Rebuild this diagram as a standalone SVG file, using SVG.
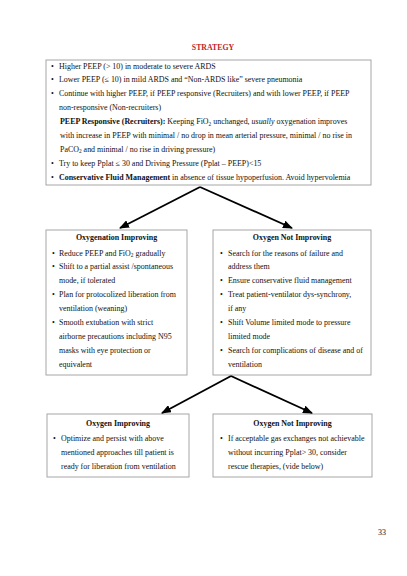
<svg xmlns="http://www.w3.org/2000/svg" width="407" height="576" viewBox="0 0 407 576">
<defs>
<marker id="ah" markerWidth="10" markerHeight="8" refX="9" refY="4" orient="auto" markerUnits="userSpaceOnUse">
<path d="M0,0 L10,4 L0,8 Z" fill="#000"/>
</marker>
<style>
text{font-family:"Liberation Serif","Times New Roman",serif;font-size:7.95px;fill:#111}
.b{font-weight:bold}
.title{font-weight:bold;font-size:7.8px;fill:#c0262c}
.c{text-anchor:middle}
.box{fill:#fff;stroke:#a6a6a6;stroke-width:1}
.arr{stroke:#000;stroke-width:1.9;fill:none;marker-end:url(#ah)}
.sub{font-size:5.3px}
</style>
</defs>
<rect width="407" height="576" fill="#fff"/>
<text class="title c" x="213" y="50">STRATEGY</text>

<g id="strategy">
<rect class="box" x="46" y="60" width="325" height="125"/>
<text x="51" y="68.5">•</text><text x="59" y="68.5">Higher PEEP (&gt; 10) in moderate to severe ARDS</text>
<text x="51" y="82.4">•</text><text x="59" y="82.4">Lower PEEP (≤ 10) in mild ARDS and “Non-ARDS like” severe pneumonia</text>
<text x="51" y="96.3">•</text><text x="59" y="96.3">Continue with higher PEEP, if PEEP responsive (Recruiters) and with lower PEEP, if PEEP</text>
<text x="59" y="110.2">non-responsive (Non-recruiters)</text>
<text x="60" y="124.1"><tspan class="b">PEEP Responsive (Recruiters):</tspan> Keeping FiO<tspan class="sub" dy="1.5">2</tspan><tspan dy="-1.5"> unchanged, </tspan><tspan font-style="italic">usually</tspan> oxygenation improves</text>
<text x="60" y="138">with increase in PEEP with minimal / no drop in mean arterial pressure, minimal / no rise in</text>
<text x="60" y="151.9">PaCO<tspan class="sub" dy="1.5">2</tspan><tspan dy="-1.5"> and minimal / no rise in driving pressure)</tspan></text>
<text x="51" y="165.8">•</text><text x="59" y="165.8">Try to keep Pplat ≤ 30 and Driving Pressure (Pplat – PEEP)&lt;15</text>
<text x="51" y="179.7">•</text><text x="59" y="179.7"><tspan class="b">Conservative Fluid Management</tspan> in absence of tissue hypoperfusion. Avoid hypervolemia</text>
</g>

<g id="oxygenation-improving">
<rect class="box" x="46" y="230" width="141" height="145"/>
<text class="b c" x="116.5" y="240">Oxygenation Improving</text>
<text x="52" y="255.5">•</text><text x="59" y="255.5">Reduce PEEP and FiO<tspan class="sub" dy="1.5">2</tspan><tspan dy="-1.5"> gradually</tspan></text>
<text x="52" y="269.4">•</text><text x="59" y="269.4">Shift to a partial assist /spontaneous</text>
<text x="59" y="283.3">mode, if tolerated</text>
<text x="52" y="297.2">•</text><text x="59" y="297.2">Plan for protocolized liberation from</text>
<text x="59" y="311.1">ventilation (weaning)</text>
<text x="52" y="325">•</text><text x="59" y="325">Smooth extubation with strict</text>
<text x="59" y="338.9">airborne precautions including N95</text>
<text x="59" y="352.8">masks with eye protection or</text>
<text x="59" y="366.7">equivalent</text>
</g>

<g id="oxygen-not-improving-1">
<rect class="box" x="213" y="230" width="158" height="145"/>
<text class="b c" x="292" y="240">Oxygen Not Improving</text>
<text x="220" y="255.5">•</text><text x="228" y="255.5">Search for the reasons of failure and</text>
<text x="228" y="269.4">address them</text>
<text x="220" y="283.3">•</text><text x="228" y="283.3">Ensure conservative fluid management</text>
<text x="220" y="297.2">•</text><text x="228" y="297.2">Treat patient-ventilator dys-synchrony,</text>
<text x="228" y="311.1">if any</text>
<text x="220" y="325">•</text><text x="228" y="325">Shift Volume limited mode to pressure</text>
<text x="228" y="338.9">limited mode</text>
<text x="220" y="352.8">•</text><text x="228" y="352.8">Search for complications of disease and of</text>
<text x="228" y="366.7">ventilation</text>
</g>

<g id="oxygen-improving">
<rect class="box" x="47" y="414" width="142" height="63"/>
<text class="b c" x="118" y="425.5">Oxygen Improving</text>
<text x="53" y="441">•</text><text x="61" y="441">Optimize and persist with above</text>
<text x="61" y="455">mentioned approaches till patient is</text>
<text x="61" y="469">ready for liberation from ventilation</text>
</g>

<g id="oxygen-not-improving-2">
<rect class="box" x="213" y="414" width="159" height="63"/>
<text class="b c" x="292.5" y="425.5">Oxygen Not Improving</text>
<text x="220" y="441">•</text><text x="228" y="441">If acceptable gas exchanges not achievable</text>
<text x="228" y="455">without incurring Pplat&gt; 30, consider</text>
<text x="228" y="469">rescue therapies, (vide below)</text>
</g>

<g id="connectors">
<line class="arr" x1="200" y1="187" x2="120" y2="228"/>
<line class="arr" x1="200" y1="187" x2="292" y2="228"/>
<line class="arr" x1="231" y1="376" x2="162" y2="413"/>
<line class="arr" x1="231" y1="376" x2="312" y2="413"/>
</g>

<text x="382" y="535" class="c">33</text>
</svg>
